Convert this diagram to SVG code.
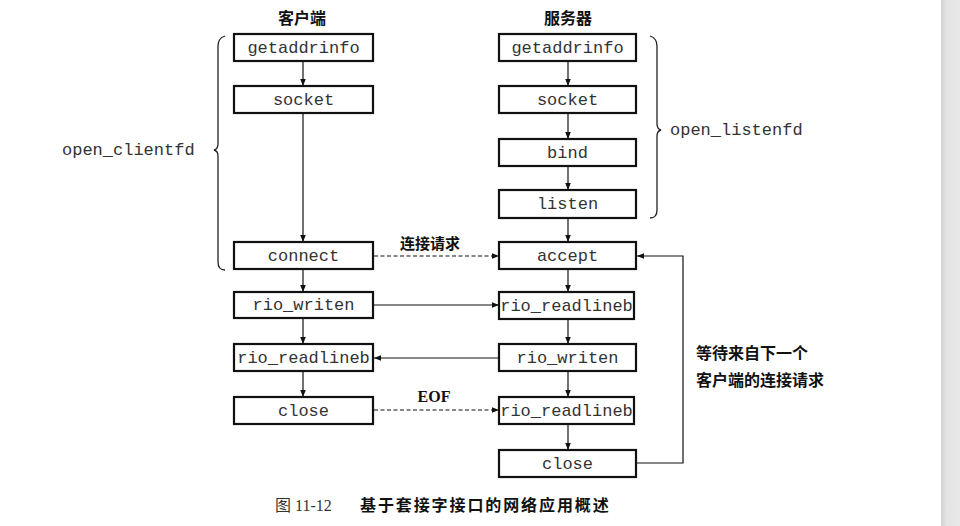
<svg xmlns="http://www.w3.org/2000/svg" width="960" height="526" viewBox="0 0 960 526">
<defs>
<marker id="ah" viewBox="0 0 10 10" refX="10" refY="5" markerWidth="7" markerHeight="7" orient="auto" markerUnits="userSpaceOnUse">
<path d="M0,1 L10,5 L0,9 Z" fill="#111"/>
</marker>
<linearGradient id="gbar" x1="0" x2="1" y1="0" y2="0">
<stop offset="0" stop-color="#d2d2d2"/>
<stop offset="0.3" stop-color="#e4e4e4"/>
<stop offset="1" stop-color="#e8e8e8"/>
</linearGradient>
</defs>
<style>
.box{fill:#fff;stroke:#111;stroke-width:2.2}
.lbl{font-family:"Liberation Mono","DejaVu Sans Mono",monospace;font-size:17px;fill:#333;text-anchor:middle;dominant-baseline:central}
.side{font-family:"Liberation Mono","DejaVu Sans Mono",monospace;font-size:17px;fill:#333;dominant-baseline:central}
.cn{font-family:"Noto Sans CJK SC","Noto Sans CJK JP",sans-serif;font-size:15px;font-weight:bold;fill:#111}
.cn16{font-family:"Noto Sans CJK SC","Noto Sans CJK JP",sans-serif;font-size:16px;font-weight:bold;fill:#111}
.ln{fill:none;stroke:#111;stroke-width:1.2}
.dash{stroke-dasharray:4,2.5}
.brace{fill:none;stroke:#222;stroke-width:1.3}
</style>
<rect x="0" y="0" width="960" height="526" fill="#fff"/>
<rect x="941" y="0" width="19" height="526" fill="url(#gbar)"/>

<text class="cn16" x="302" y="24" text-anchor="middle">客户端</text>
<text class="cn16" x="568" y="24" text-anchor="middle">服务器</text>

<g id="connectors">
<line class="ln" x1="303" y1="61" x2="303" y2="86" marker-end="url(#ah)"/>
<line class="ln" x1="303" y1="113" x2="303" y2="242" marker-end="url(#ah)"/>
<line class="ln" x1="303" y1="269" x2="303" y2="292" marker-end="url(#ah)"/>
<line class="ln" x1="303" y1="318" x2="303" y2="344" marker-end="url(#ah)"/>
<line class="ln" x1="303" y1="371" x2="303" y2="397" marker-end="url(#ah)"/>
<line class="ln" x1="568" y1="61" x2="568" y2="86" marker-end="url(#ah)"/>
<line class="ln" x1="568" y1="113" x2="568" y2="139" marker-end="url(#ah)"/>
<line class="ln" x1="568" y1="166" x2="568" y2="190" marker-end="url(#ah)"/>
<line class="ln" x1="568" y1="218" x2="568" y2="242" marker-end="url(#ah)"/>
<line class="ln" x1="568" y1="269" x2="568" y2="292" marker-end="url(#ah)"/>
<line class="ln" x1="568" y1="319" x2="568" y2="344" marker-end="url(#ah)"/>
<line class="ln" x1="568" y1="371" x2="568" y2="397" marker-end="url(#ah)"/>
<line class="ln" x1="568" y1="424" x2="568" y2="450" marker-end="url(#ah)"/>
<line class="ln dash" x1="374" y1="256" x2="499" y2="256" marker-end="url(#ah)"/>
<line class="ln" x1="374" y1="305" x2="499" y2="305" marker-end="url(#ah)"/>
<line class="ln" x1="499" y1="358" x2="374" y2="358" marker-end="url(#ah)"/>
<line class="ln dash" x1="374" y1="410" x2="499" y2="410" marker-end="url(#ah)"/>
<polyline class="ln" points="636,463 683,463 683,256 637,256" marker-end="url(#ah)"/>
</g>

<text class="cn" x="430" y="249" text-anchor="middle">连接请求</text>
<text x="434" y="402" text-anchor="middle" font-family="Liberation Serif,serif" font-weight="bold" font-size="16" fill="#111">EOF</text>
<text class="cn16" x="696" y="359">等待来自下一个</text>
<text class="cn16" x="696" y="386">客户端的连接请求</text>

<g id="c_getaddrinfo"><rect class="box" x="234" y="34" width="139" height="27"/><text class="lbl" x="303.5" y="48">getaddrinfo</text></g>
<g id="c_socket"><rect class="box" x="234" y="86" width="139" height="27"/><text class="lbl" x="303.5" y="100">socket</text></g>
<g id="c_connect"><rect class="box" x="234" y="242" width="139" height="27"/><text class="lbl" x="303.5" y="256">connect</text></g>
<g id="c_rio_writen"><rect class="box" x="234" y="292" width="139" height="26"/><text class="lbl" x="303.5" y="305">rio_writen</text></g>
<g id="c_rio_readlineb"><rect class="box" x="234" y="344" width="139" height="27"/><text class="lbl" x="303.5" y="358">rio_readlineb</text></g>
<g id="c_close"><rect class="box" x="234" y="397" width="139" height="27"/><text class="lbl" x="303.5" y="411">close</text></g>

<g id="s_getaddrinfo"><rect class="box" x="499" y="34" width="137" height="27"/><text class="lbl" x="567.5" y="48">getaddrinfo</text></g>
<g id="s_socket"><rect class="box" x="499" y="86" width="137" height="27"/><text class="lbl" x="567.5" y="100">socket</text></g>
<g id="s_bind"><rect class="box" x="499" y="139" width="137" height="27"/><text class="lbl" x="567.5" y="153">bind</text></g>
<g id="s_listen"><rect class="box" x="499" y="190" width="137" height="28"/><text class="lbl" x="567.5" y="204">listen</text></g>
<g id="s_accept"><rect class="box" x="499" y="242" width="137" height="27"/><text class="lbl" x="567.5" y="256">accept</text></g>
<g id="s_rio_readlineb1"><rect class="box" x="499" y="292" width="135" height="27"/><text class="lbl" x="566.5" y="306">rio_readlineb</text></g>
<g id="s_rio_writen"><rect class="box" x="499" y="344" width="137" height="27"/><text class="lbl" x="567.5" y="358">rio_writen</text></g>
<g id="s_rio_readlineb2"><rect class="box" x="499" y="397" width="135" height="27"/><text class="lbl" x="566.5" y="411">rio_readlineb</text></g>
<g id="s_close"><rect class="box" x="499" y="450" width="137" height="27"/><text class="lbl" x="567.5" y="464">close</text></g>

<g id="brace_client">
<path class="brace" d="M225,36 Q218,38 218,46 L218,144 Q218,149 214,150 Q218,151 218,156 L218,262 Q218,270 225,270"/>
<text class="side" x="62" y="150">open_clientfd</text>
</g>
<g id="brace_server">
<path class="brace" d="M650,36 Q657,38 657,46 L657,124 Q657,129 661,130 Q657,131 657,136 L657,210 Q657,218 650,218"/>
<text class="side" x="670" y="130">open_listenfd</text>
</g>

<text x="275" y="511" font-family="Liberation Serif,'Noto Sans CJK SC',serif" font-size="16" fill="#333">图 11-12</text>
<text x="360" y="511" font-family="'Noto Sans CJK SC',sans-serif" font-size="16" font-weight="bold" fill="#111" letter-spacing="1.9">基于套接字接口的网络应用概述</text>
</svg>
